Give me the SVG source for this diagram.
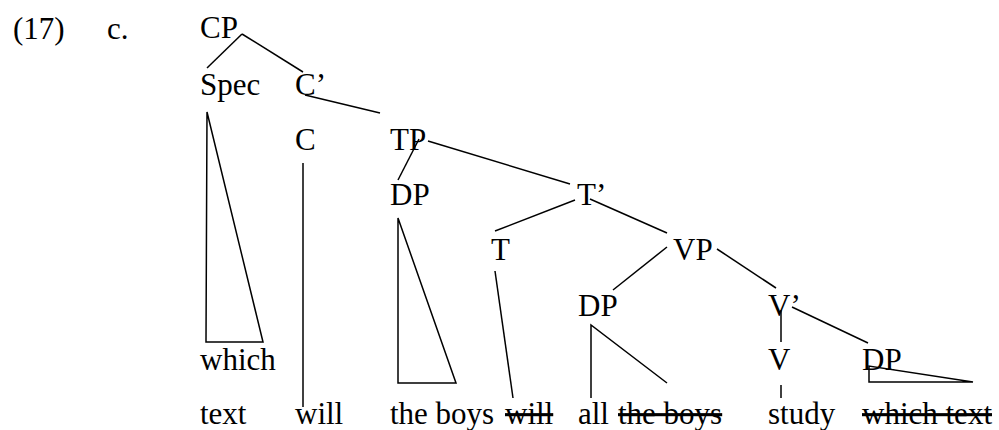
<svg xmlns="http://www.w3.org/2000/svg" width="999" height="430" viewBox="0 0 999 430">
<style>
text { font-family: "Times New Roman", "Liberation Serif", Tinos, "DejaVu Serif", serif; font-size: 31px; fill: #000; }
.s { text-decoration: line-through; }
.e { stroke: #000; stroke-width: 1.5; fill: none; }
</style>
<rect width="999" height="430" fill="#fff"/>
<g id="label" font-family="Liberation Serif, serif">
<text x="13" y="39">(17)</text>
<text x="107" y="39">c.</text>
</g>
<g id="CP"><text x="200" y="38">CP</text></g>
<g id="Spec"><text x="200" y="95">Spec</text></g>
<g id="Cbar"><text x="295" y="95">C’</text></g>
<g id="C"><text x="295" y="150">C</text></g>
<g id="TP"><text x="390" y="150">TP</text></g>
<g id="DP1"><text x="390" y="205">DP</text></g>
<g id="Tbar"><text x="577" y="205">T’</text></g>
<g id="T"><text x="491" y="260">T</text></g>
<g id="VP"><text x="673" y="260">VP</text></g>
<g id="DP2"><text x="578" y="316">DP</text></g>
<g id="Vbar"><text x="768" y="316">V’</text></g>
<g id="V"><text x="768" y="370">V</text></g>
<g id="DP3"><text x="862" y="370">DP</text></g>
<g id="which"><text x="200" y="370">which</text></g>
<g id="words">
<text x="200" y="424">text</text>
<text x="295" y="424">will</text>
<text x="390" y="424">the boys</text>
<text x="505" y="424" class="s">will</text>
<text x="578" y="424">all</text>
<text x="618" y="424" class="s">the boys</text>
<text x="768" y="424">study</text>
<text x="862" y="424" class="s">which text</text>
</g>
<g id="connectors" class="e">
<line x1="242" y1="34" x2="207" y2="68"/>
<line x1="242" y1="34" x2="303" y2="72"/>
<line x1="305" y1="95" x2="380" y2="113"/>
<polygon points="207,112 206,342 263,342"/>
<line x1="303" y1="163" x2="303" y2="407"/>
<line x1="419" y1="139" x2="398" y2="180"/>
<line x1="428" y1="141" x2="570" y2="184"/>
<polygon points="398,218 398,383 456,383"/>
<line x1="575" y1="200" x2="495" y2="231"/>
<line x1="590" y1="199" x2="667" y2="233"/>
<line x1="495" y1="271" x2="513" y2="398"/>
<line x1="667" y1="247" x2="613" y2="290"/>
<line x1="717" y1="249" x2="776" y2="288"/>
<polyline points="591,398 591,325 667,383"/>
<line x1="781" y1="310" x2="781" y2="342"/>
<line x1="792" y1="307" x2="868" y2="343"/>
<line x1="781" y1="385" x2="781" y2="398"/>
<polygon points="869,366 869,382 973,382"/>
</g>
</svg>
